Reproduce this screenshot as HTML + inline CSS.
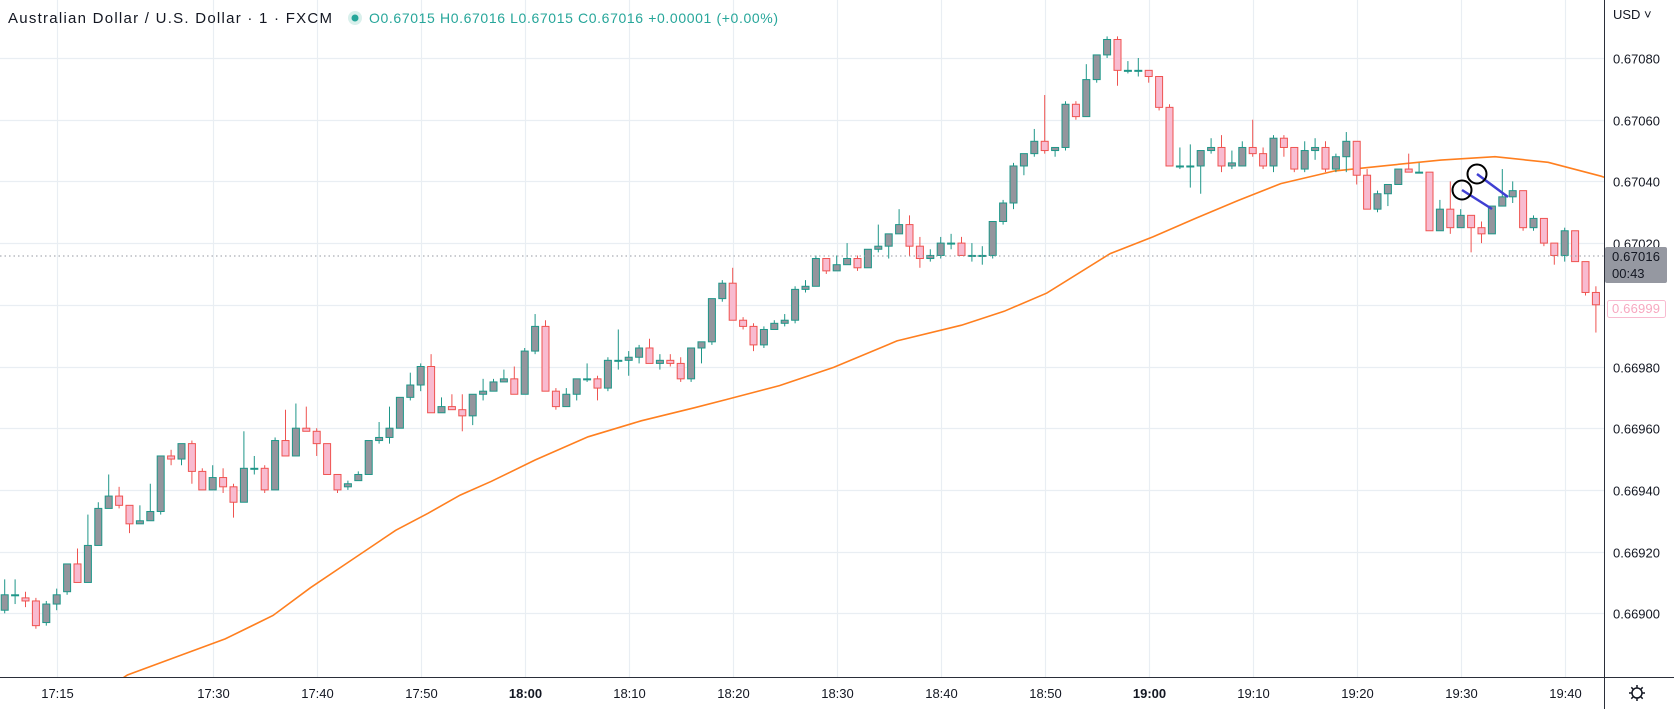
<!DOCTYPE html>
<html><head><meta charset="utf-8"><style>
html,body{margin:0;padding:0;background:#fff;}
svg{display:block;font-family:"Liberation Sans",sans-serif;}
</style></head><body>
<svg id="chart" width="1674" height="709" viewBox="0 0 1674 709" xmlns="http://www.w3.org/2000/svg">
<defs><clipPath id="plotClip"><rect x="0" y="0" width="1604" height="677"/></clipPath></defs>
<rect x="0" y="0" width="1674" height="709" fill="#ffffff"/>
<g id="grid"></g>
<g id="ma" clip-path="url(#plotClip)"></g>
<g id="candles" clip-path="url(#plotClip)"></g>
<g id="drawings">
  <line x1="1462" y1="190" x2="1492" y2="209" stroke="#3f3fd2" stroke-width="2.5"/>
  <circle cx="1462" cy="190" r="9.5" fill="none" stroke="#000" stroke-width="2"/>
  <line x1="1477" y1="174" x2="1508" y2="197" stroke="#3f3fd2" stroke-width="2.5"/>
  <circle cx="1477" cy="174" r="9.5" fill="none" stroke="#000" stroke-width="2"/>
</g>
<line x1="0" y1="256" x2="1604" y2="256" stroke="#9598a1" stroke-width="1" stroke-dasharray="1.5,3"/>
<line x1="1604.5" y1="0" x2="1604.5" y2="709" stroke="#2a2e39" stroke-width="1"/>
<line x1="0" y1="677.5" x2="1674" y2="677.5" stroke="#2a2e39" stroke-width="1"/>
<g id="axes"></g>
<text x="1613" y="19" font-size="13" fill="#131722">USD ˅</text>
<g>
  <rect x="1605" y="247" width="62" height="36" fill="#9598a1" rx="2"/>
  <text x="1612" y="261" font-size="13" fill="#131722" textLength="48">0.67016</text>
  <text x="1612" y="278" font-size="13" fill="#131722">00:43</text>
</g>
<g>
  <rect x="1607.5" y="300.5" width="58" height="17" fill="#fff" stroke="#f8bbd0" rx="2"/>
  <text x="1612" y="313" font-size="13" fill="#f7a8c0" textLength="48">0.66999</text>
</g>
<g transform="translate(1637,693)">
  <circle r="5" fill="none" stroke="#131722" stroke-width="1.5"/>
  <g stroke="#131722" stroke-width="1.5">
    <line x1="0" y1="-8" x2="0" y2="-5.5"/><line x1="0" y1="8" x2="0" y2="5.5"/>
    <line x1="-8" y1="0" x2="-5.5" y2="0"/><line x1="8" y1="0" x2="5.5" y2="0"/>
    <line x1="-5.7" y1="-5.7" x2="-3.9" y2="-3.9"/><line x1="5.7" y1="5.7" x2="3.9" y2="3.9"/>
    <line x1="-5.7" y1="5.7" x2="-3.9" y2="3.9"/><line x1="5.7" y1="-5.7" x2="3.9" y2="-3.9"/>
  </g>
</g>
<text x="8" y="23" font-size="15" fill="#131722" textLength="324">Australian Dollar / U.S. Dollar · 1 · FXCM</text>
<circle cx="355" cy="18" r="7" fill="#d9f0ec"/>
<circle cx="355" cy="18" r="3.5" fill="#26a69a"/>
<text x="369" y="23" font-size="14" fill="#26a69a" textLength="409">O0.67015 H0.67016 L0.67015 C0.67016 +0.00001 (+0.00%)</text>
</svg>
<script>
// Prices in points (1 point = 0.00001) above 0.66900
const basePrice = 0.669;
const pointSize = 0.00001;
const startMinute = 10; // 17:10
const openPts  = [1,6,5,4,-3,3,7,16,10,22,34,38,35,29,30,33,51,50,55,46,40,44,41,36,47,47,40,56,51,60,59,55,45,41,43,45,56,57,60,70,74,80,65,67,66,64,71,72,75,76,71,85,93,72,67,71,76,76,73,82,82,83,86,81,82,81,76,86,88,102,107,95,93,87,92,94,95,105,106,115,111,113,115,112,118,119,123,126,119,115,116,120,120,116,116,116,127,133,145,149,153,150,151,165,161,173,181,186,176,176,176,174,164,145,145,145,150,151,145,145,151,149,145,154,151,144,150,151,144,148,153,142,131,136,139,144,143,143,124,131,125,129,125,123,132,135,137,125,128,120,116,124,114,104];
const closePts = [6,6,4,-4,3,6,16,10,22,34,38,35,29,30,33,51,50,55,46,40,44,41,36,47,47,40,56,51,60,59,55,45,40,42,45,56,57,60,70,74,80,65,67,66,64,71,72,75,76,71,85,93,72,67,71,76,76,73,82,82,83,86,81,82,81,76,86,88,102,107,95,93,87,92,94,95,105,106,115,111,113,115,112,118,119,123,126,119,115,116,120,120,116,116,116,127,133,145,149,153,150,151,165,161,173,181,186,176,176,176,174,164,145,145,145,150,151,145,146,151,149,145,154,151,144,150,151,144,148,153,142,131,136,139,144,143,143,124,131,125,129,125,123,132,135,137,125,128,120,116,124,114,104,100];
const highPts  = [11,11,7,5,4,8,16,21,32,36,45,41,35,35,42,51,53,55,56,47,48,47,42,59,51,48,57,66,68,67,60,55,45,43,46,56,62,67,70,78,81,84,70,71,71,71,76,76,79,80,86,97,95,73,73,76,81,77,83,92,85,87,89,84,84,83,86,88,102,108,112,96,94,93,95,97,106,108,116,115,116,120,116,118,126,123,131,129,122,118,122,123,122,120,119,127,134,146,149,157,168,151,166,166,178,181,187,187,179,180,176,174,165,151,152,150,154,155,150,153,160,151,155,155,151,153,154,153,149,156,153,144,137,139,144,149,146,143,134,140,131,129,127,132,144,140,137,129,128,120,125,124,114,106];
const lowPts   = [0,3,2,-5,-4,1,6,10,10,22,34,34,26,29,30,32,48,48,42,40,40,39,31,36,45,39,40,51,51,59,51,45,39,40,43,45,55,55,60,69,72,65,65,66,59,61,69,72,75,71,71,84,72,66,67,69,75,69,72,79,77,81,81,79,80,75,75,81,87,101,95,92,85,86,92,93,94,104,106,110,111,113,111,112,117,115,123,116,112,114,115,118,116,114,113,115,126,131,142,148,149,148,150,160,161,172,180,171,175,174,172,163,145,144,138,136,149,143,144,145,148,144,143,148,143,143,147,143,143,143,139,131,130,132,139,143,143,124,124,123,125,117,120,123,132,133,124,124,119,113,114,114,103,91];
// Moving average (points above 0.66900) at minute offsets from 17:00
const maMinutes = [20,21.8,27.1,31.2,35.8,39.4,43.5,47.6,50.7,53.8,56.8,61,66.1,71.2,76.3,79.4,84.5,89.7,95.8,102,106.1,110.2,116.3,120.4,124.5,128.6,132.7,137.9,143,148.1,153.3,158.4,163.5,165];
const maPts = [-24,-20,-13.4,-8.3,-0.7,8.3,17.6,26.9,32.4,38.3,42.8,49.7,57.2,62.4,66.6,69.3,73.8,79.7,88.3,93.4,97.9,103.8,116.6,122,128,133.8,139.3,143.4,145.2,146.9,148,146.2,141.7,140];
const priceTicks = [0.66900,0.66920,0.66940,0.66960,0.66980,0.67000,0.67020,0.67040,0.67060,0.67080];
const timeTickMinutes = [15,30,40,50,60,70,80,90,100,110,120,130,140,150,160];
const timeTickLabels = ["17:15","17:30","17:40","17:50","18:00","18:10","18:20","18:30","18:40","18:50","19:00","19:10","19:20","19:30","19:40"];

const NS = "http://www.w3.org/2000/svg";
function xOf(min){ return 56.7 + (min - 15) * 10.4; }
function yOf(price){ return 58 + (0.6708 - price) * 308500; }
function ptsToPrice(v){ return basePrice + v * pointSize; }
function mk(tag, attrs, parent){
  const e = document.createElementNS(NS, tag);
  for (const k in attrs) e.setAttribute(k, attrs[k]);
  parent.appendChild(e); return e;
}
const grid = document.getElementById('grid');
const axes = document.getElementById('axes');
priceTicks.forEach(p => {
  const y = Math.round(yOf(p)) + 0.5;
  const gl = mk('line', {x1:0, x2:1604, y1:y, y2:y, stroke:'#e9eef3', 'stroke-width':1.2}, grid);
  
  
  const t = mk('text', {x:1613, y:y+5, 'font-size':13, fill:'#131722', textLength:47}, axes);
  t.textContent = p.toFixed(5);
  
  
});
timeTickMinutes.forEach((m, i) => {
  const x = Math.round(xOf(m)) + 0.5;
  const gl = mk('line', {x1:x, x2:x, y1:0, y2:677, stroke:'#e9eef3', 'stroke-width':1.2}, grid);
  
  
  const lab = timeTickLabels[i];
  const bold = (lab === "18:00" || lab === "19:00");
  const t = mk('text', {x:x, y:698, 'font-size':13, fill:'#131722', 'text-anchor':'middle', 'font-weight': bold ? 'bold' : 'normal'}, axes);
  t.textContent = lab;
  
  
});
// moving average
const ma = document.getElementById('ma');
let d = '';
maMinutes.forEach((m, i) => { d += (i ? 'L' : 'M') + xOf(m).toFixed(1) + ',' + yOf(ptsToPrice(maPts[i])).toFixed(1); });
const maPath = mk('path', {d:d, fill:'none', stroke:'#ff7f1f', 'stroke-width':1.6}, ma);


// candles
const cg = document.getElementById('candles');
openPts.forEach((o, i) => {
  const c = closePts[i], h = highPts[i], l = lowPts[i];
  const x = xOf(startMinute + i);
  const up = c >= o;
  const edge = up ? '#1e9688' : '#ef5350';
  const fill = up ? '#94959d' : '#f8bbd0';
  const g = mk('g', {}, cg);
  
  
  const yh = yOf(ptsToPrice(h)), yl = yOf(ptsToPrice(l));
  mk('line', {x1:x, x2:x, y1:yh, y2:yl, stroke:edge, 'stroke-width':1}, g);
  const yTop = yOf(ptsToPrice(Math.max(o, c))), yBot = yOf(ptsToPrice(Math.min(o, c)));
  mk('rect', {x:x-3.5, y:yTop, width:7, height:Math.max(1, yBot - yTop), fill:fill, stroke:edge, 'stroke-width':1}, g);
});
</script>
</body></html>
